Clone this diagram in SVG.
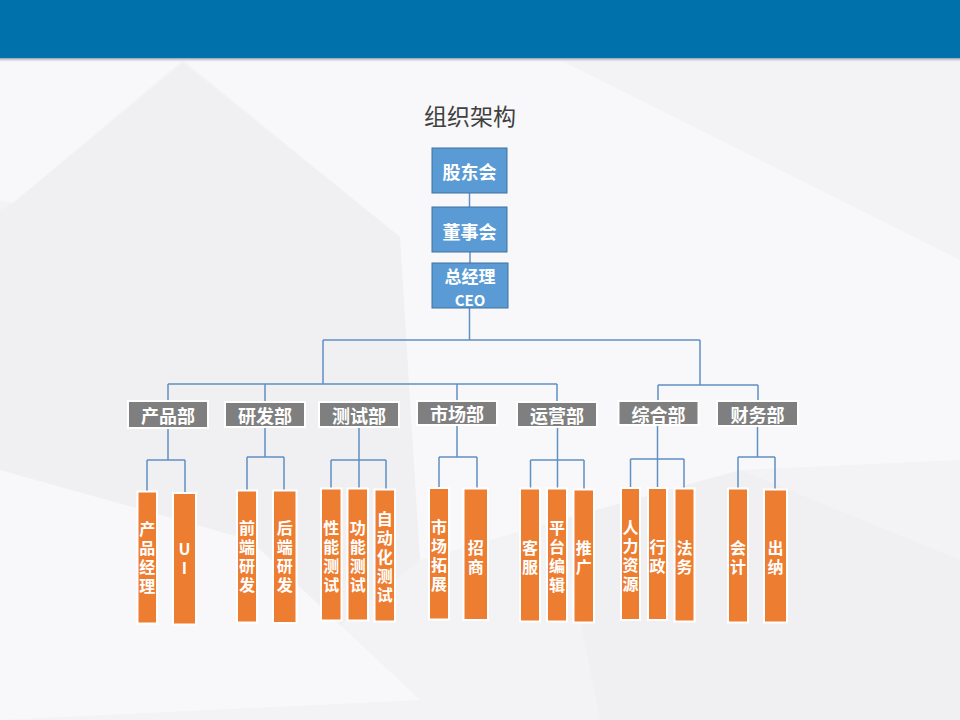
<svg xmlns="http://www.w3.org/2000/svg" width="960" height="720" viewBox="0 0 960 720">
<defs>
<style>
.bg1{fill:#f8f8fa}
.bg2{fill:#f0f0f2}
.blue rect{fill:#5b9bd5;stroke:#41719c;stroke-width:1}
.dept rect{fill:#7f7f7f;stroke:#ffffff;stroke-width:2}
.leaf rect{fill:#ed7d31;stroke:#ffffff;stroke-width:2}
text{font-family:"Noto Sans CJK SC","Noto Sans",sans-serif}
.lbl{fill:#ffffff;font-weight:bold;text-anchor:middle;dominant-baseline:central}
.blue text{font-size:18px}
.dept text{font-size:18px}
.leaf text{font-size:16px;fill:#ffffff;font-weight:bold;text-anchor:middle;writing-mode:vertical-rl;text-orientation:upright;letter-spacing:3px}
.title{fill:#404040;font-size:23px;text-anchor:middle;dominant-baseline:central}
#connectors path{fill:none;stroke:#5f8fc3;stroke-width:1.5}
</style>
<linearGradient id="sh" x1="0" y1="0" x2="0" y2="1">
<stop offset="0" stop-color="#5f7f92" stop-opacity="0.7"/>
<stop offset="1" stop-color="#c8ccd0" stop-opacity="0"/>
</linearGradient>
</defs>
<g id="background">
<rect x="0" y="0" width="960" height="720" fill="#f3f3f5"/>
<polygon class="bg1" points="0,60 183,60 13,203 0,200"/>
<polygon class="bg1" points="183,60 560,60 960,260 960,380 700,260 400,237"/>
<polygon class="bg2" points="13,203 183,63 400,237 420,560 250,700 0,700 0,210"/>
<polygon class="bg1" points="0,470 250,540 420,700 0,720"/>
<polygon class="bg2" points="560,520 740,470 960,560 960,720 600,720"/>
<polygon class="bg1" points="400,237 700,260 960,380 960,460 740,470 560,520 420,560"/>
<rect x="0" y="0" width="960" height="58" fill="#0071aa"/>
<rect x="0" y="58" width="960" height="4" fill="url(#sh)"/>
</g>
<text id="title" class="title" x="470" y="115">组织架构</text>
<g id="connectors">
<path d="M469.5,193V207M470,252V263M469.5,308V340M323,340H700M323,340V384M168,384H557M168,384V401M265,384V402M457,384V401M557,384V402M700,340V385M658,385H758M658,385V401M758,385V401"/>
<path d="M168,428V460M147,460H185M147,460V491.5M185,460V493"/>
<path d="M265,427V457M247,457H284M247,457V490.5M284,457V490.5"/>
<path d="M359,427V488.5M331,460H386M331,460V488.5M386,460V489.5"/>
<path d="M457,425V457M439,457H477M439,457V488M477,457V488.5"/>
<path d="M557.5,427V488.5M530.5,460H584M530.5,460V488.5M584,460V489.5"/>
<path d="M657.5,425V488M630.5,459H684M630.5,459V488M684,459V488.5"/>
<path d="M757.5,426V457M738,457H775M738,457V488.5M775,457V489.5"/>
</g>
<g id="n-gudong" class="blue"><rect x="432" y="148" width="75" height="45"/><text class="lbl" x="469.5" y="171">股东会</text></g>
<g id="n-dongshi" class="blue"><rect x="432" y="207" width="75" height="45"/><text class="lbl" x="469.5" y="231">董事会</text></g>
<g id="n-ceo" class="blue"><rect x="432" y="263" width="76" height="45"/><text class="lbl"><tspan x="470" y="275" style="font-size:17px">总经理</tspan><tspan x="470" y="299" style="font-size:15px">CEO</tspan></text></g>

<g id="d-chanpin" class="dept"><rect x="128" y="401" width="80" height="27"/><text class="lbl" x="168" y="415">产品部</text></g>
<g id="d-yanfa" class="dept"><rect x="225" y="402" width="80" height="25"/><text class="lbl" x="265" y="415">研发部</text></g>
<g id="d-ceshi" class="dept"><rect x="319" y="402" width="80" height="25"/><text class="lbl" x="359" y="415">测试部</text></g>
<g id="d-shichang" class="dept"><rect x="417" y="401" width="80" height="24"/><text class="lbl" x="457" y="413">市场部</text></g>
<g id="d-yunying" class="dept"><rect x="517" y="402" width="80" height="25"/><text class="lbl" x="557" y="415">运营部</text></g>
<g id="d-zonghe" class="dept"><rect x="618.5" y="401" width="80" height="24"/><text class="lbl" x="658.5" y="414">综合部</text></g>
<g id="d-caiwu" class="dept"><rect x="717" y="401" width="81" height="25"/><text class="lbl" x="757.5" y="414">财务部</text></g>

<g id="l-cpjl" class="leaf"><rect x="137.5" y="491.5" width="19.5" height="132"/><text x="147.3" y="559">产品经理</text></g>
<g id="l-ui" class="leaf"><rect x="173" y="493" width="23" height="131.5"/><text x="184.5" y="560">UI</text></g>
<g id="l-qdyf" class="leaf"><rect x="237" y="490.5" width="20" height="132"/><text x="247" y="558">前端研发</text></g>
<g id="l-hdyf" class="leaf"><rect x="273" y="490.5" width="23.5" height="132.5"/><text x="284.7" y="558">后端研发</text></g>
<g id="l-xncs" class="leaf"><rect x="321" y="488.5" width="20.5" height="132"/><text x="331.2" y="558">性能测试</text></g>
<g id="l-gncs" class="leaf"><rect x="347.5" y="488.5" width="20.5" height="132"/><text x="357.7" y="558">功能测试</text></g>
<g id="l-zdhcs" class="leaf"><rect x="374.5" y="489.5" width="20.5" height="132"/><text x="384.7" y="558">自动化测试</text></g>
<g id="l-sctz" class="leaf"><rect x="429" y="488" width="20" height="131.5"/><text x="439" y="557">市场拓展</text></g>
<g id="l-zs" class="leaf"><rect x="463.5" y="488.5" width="24.5" height="131.5"/><text x="475.7" y="559">招商</text></g>
<g id="l-kf" class="leaf"><rect x="520" y="488.5" width="20" height="133"/><text x="530" y="559">客服</text></g>
<g id="l-ptbj" class="leaf"><rect x="547" y="488.5" width="20" height="133"/><text x="557" y="558">平台编辑</text></g>
<g id="l-tg" class="leaf"><rect x="573.5" y="489.5" width="20.5" height="133"/><text x="583.7" y="559">推广</text></g>
<g id="l-rlzy" class="leaf"><rect x="621" y="488" width="19" height="132"/><text x="630.5" y="557">人力资源</text></g>
<g id="l-xz" class="leaf"><rect x="648" y="488" width="19" height="132"/><text x="657.5" y="558">行政</text></g>
<g id="l-fw" class="leaf"><rect x="674.5" y="488.5" width="20" height="133"/><text x="684.5" y="559">法务</text></g>
<g id="l-kj" class="leaf"><rect x="728" y="488.5" width="20" height="134"/><text x="738" y="559">会计</text></g>
<g id="l-cn" class="leaf"><rect x="764" y="489.5" width="23" height="133"/><text x="775.5" y="559">出纳</text></g>
</svg>
